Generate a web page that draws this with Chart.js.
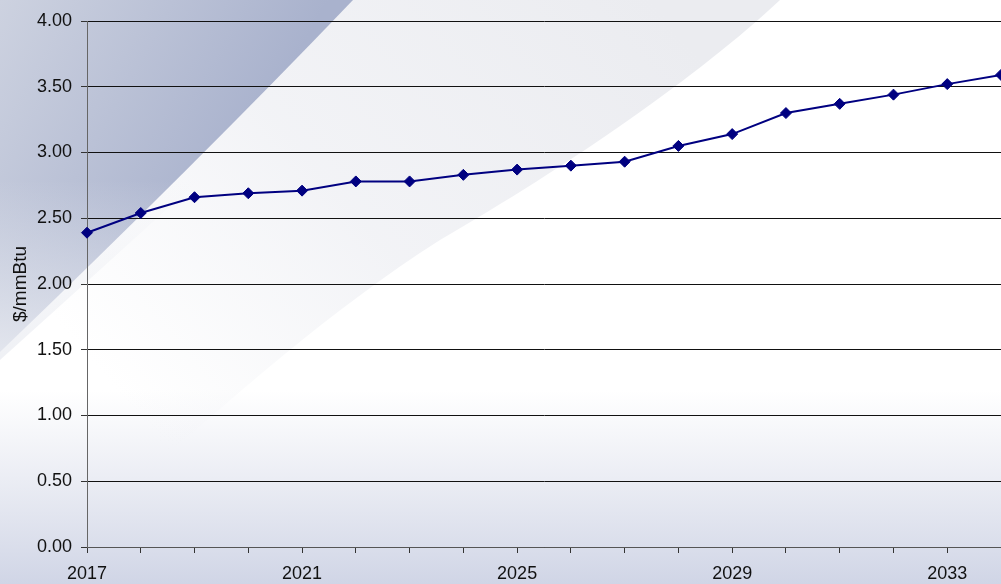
<!DOCTYPE html>
<html>
<head>
<meta charset="utf-8">
<script src="https://cdn.jsdelivr.net/npm/chart.js@4.4.1/dist/chart.umd.min.js"></script>
<style>
  html, body { margin: 0; padding: 0; background: #fff; }
  #canvas { display: block; }
</style>
</head>
<body>
<canvas id="canvas" width="1001" height="584"></canvas>
<script>
var YEARS = ["2017", "2018", "2019", "2020", "2021", "2022", "2023", "2024", "2025",
	"2026", "2027", "2028", "2029", "2030", "2031", "2032", "2033", "2034"];
var PRICES = [2.39, 2.54, 2.66, 2.69, 2.71, 2.78, 2.78, 2.83, 2.87,
	2.90, 2.93, 3.05, 3.14, 3.30, 3.37, 3.44, 3.52, 3.59];
var SHOWN_YEARS = ["2017", "2021", "2025", "2029", "2033"];
var Y_TICKS = [0, 0.5, 1, 1.5, 2, 2.5, 3, 3.5, 4];

// slide style background: blue-grey swoosh top left, soft grey band, pale blue floor
var backdrop = {
	id: 'backdrop',
	beforeDraw: function (chart) {
		var c = chart.ctx, w = chart.width, h = chart.height;
		c.save();
		c.fillStyle = '#ffffff';
		c.fillRect(0, 0, w, h);

		var floor = c.createLinearGradient(0, 390, 0, h);
		floor.addColorStop(0, 'rgba(214,218,232,0)');
		floor.addColorStop(1, 'rgba(208,213,230,1)');
		c.fillStyle = floor;
		c.fillRect(0, 390, w, h - 390);

		var band = c.createLinearGradient(650, 0, 150, 430);
		band.addColorStop(0, 'rgba(235,236,240,1)');
		band.addColorStop(0.55, 'rgba(239,240,244,0.8)');
		band.addColorStop(1, 'rgba(240,241,245,0)');
		c.fillStyle = band;
		c.beginPath();
		c.moveTo(340, 0);
		c.lineTo(780, 0);
		c.bezierCurveTo(700, 75, 570, 165, 440, 240);
		c.bezierCurveTo(330, 310, 230, 400, 150, 470);
		c.lineTo(0, 470);
		c.lineTo(0, 340);
		c.closePath();
		c.fill();

		var dark = c.createLinearGradient(0, 0, 250, 140);
		dark.addColorStop(0, '#cdd2e0');
		dark.addColorStop(1, '#a9b2cd');
		c.fillStyle = dark;
		c.beginPath();
		c.moveTo(0, 0);
		c.lineTo(353, 0);
		c.quadraticCurveTo(195, 165, 0, 352);
		c.closePath();
		c.fill();

		var fade = c.createLinearGradient(0, 180, 0, 360);
		fade.addColorStop(0, 'rgba(236,238,243,0)');
		fade.addColorStop(1, 'rgba(236,238,243,0.85)');
		c.fillStyle = fade;
		c.beginPath();
		c.moveTo(0, 170);
		c.lineTo(210, 170);
		c.quadraticCurveTo(100, 270, 0, 360);
		c.closePath();
		c.fill();
		c.restore();
	}
};

window.onload = function () {
	var ctx = document.getElementById('canvas').getContext('2d');
	window.myLine = new Chart(ctx, {
		type: 'line',
		data: {
			labels: YEARS,
			datasets: [{
				label: 'Price',
				data: PRICES,
				borderColor: '#000080',
				backgroundColor: '#000080',
				borderWidth: 2,
				tension: 0,
				pointStyle: 'rectRot',
				pointRadius: 5.5,
				pointHoverRadius: 5.5,
				pointBorderWidth: 1,
				pointBackgroundColor: '#000080',
				pointBorderColor: '#000080',
				clip: false
			}]
		},
		options: {
			responsive: false,
			animation: false,
			devicePixelRatio: 1,
			layout: { autoPadding: false, padding: { top: 21, right: 0, bottom: 0, left: 0 } },
			plugins: {
				legend: { display: false },
				tooltip: { enabled: false }
			},
			scales: {
				x: {
					offset: false,
					afterFit: function (scale) {
						scale.height = 37;
						scale.paddingRight = 0;
					},
					border: { color: '#555555', width: 1 },
					grid: { drawOnChartArea: false, drawTicks: true, tickLength: 6, tickColor: '#333333', color: '#333333' },
					ticks: {
						autoSkip: false,
						maxRotation: 0,
						padding: 10,
						color: '#111111',
						font: { family: 'Liberation Sans, Arial, sans-serif', size: 18 },
						callback: function (value, index) {
							var lab = YEARS[index];
							return SHOWN_YEARS.indexOf(lab) >= 0 ? lab : '';
						}
					}
				},
				y: {
					min: 0,
					max: 4,
					afterFit: function (scale) { scale.width = 87; },
					afterBuildTicks: function (scale) {
						scale.ticks = Y_TICKS.map(function (v) { return { value: v }; });
					},
					border: { color: '#666666', width: 1 },
					grid: { color: '#111111', lineWidth: 1, drawTicks: true, tickLength: 6, tickColor: '#333333' },
					ticks: {
						padding: 9,
						color: '#111111',
						font: { family: 'Liberation Sans, Arial, sans-serif', size: 18 },
						callback: function (value) { return value.toFixed(2); }
					},
					title: {
						display: true,
						text: '$/mmBtu',
						color: '#111111',
						padding: { top: 9, bottom: 0 },
						font: { family: 'Liberation Sans, Arial, sans-serif', size: 19 }
					}
				}
			}
		},
		plugins: [backdrop]
	});
};
</script>
</body>
</html>
